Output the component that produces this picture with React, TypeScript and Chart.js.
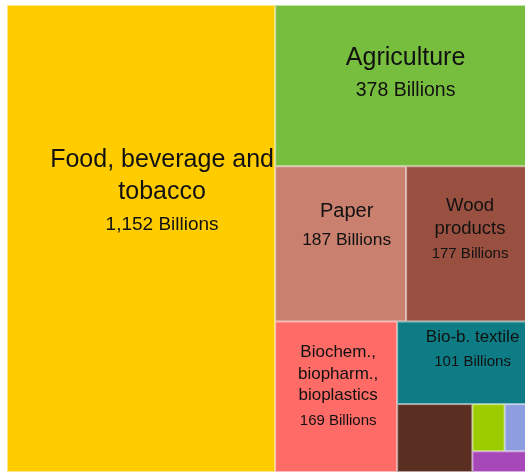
import React, { useEffect, useRef } from "react";
import { Chart, registerables } from "chart.js";

Chart.register(...registerables);

// ---- data ----
const sectors = [
  "Food, beverage and tobacco",
  "Agriculture",
  "Paper",
  "Wood products",
  "Biochem., biopharm., bioplastics",
  "Bio-b. textile",
  "Forestry",
  "Liquid biofuels",
  "Fishing and aquaculture",
  "Bioelectricity",
];
const turnoverBillions = [1152, 378, 187, 177, 169, 101, 47, 14, 11, 11];
const valueSuffix = " Billions";

// ---- styles ----
const colors = [
  "#FFCC00",
  "#78BE3E",
  "#C9806F",
  "#9A5040",
  "#FF6B66",
  "#0E7C84",
  "#5B2E22",
  "#9CCB00",
  "#8C9EE0",
  "#A648B8",
];
// label styles per sector: [nameSize, valueSize, dx, dy] (null = no label)
const labelStyles: (null | [number, number, number, number])[] = [
  [25, 19, 21, -49],
  [25, 19.5, 3, -14],
  [20, 17.4, 6, -20],
  [18.5, 15, 2, -16],
  [17, 15, 2, -12],
  [17, 15, 9, -15],
  null,
  null,
  null,
  null,
];
const FONT = '"Liberation Sans", Arial, sans-serif';

type Rect = { x: number; y: number; w: number; h: number };

function worst(row: number[], side: number) {
  const s = row.reduce((a, b) => a + b, 0);
  let m = 0;
  for (const r of row) {
    const v = Math.max((side * side * r) / (s * s), (s * s) / (side * side * r));
    if (v > m) m = v;
  }
  return m;
}

function squarify(values: number[], rect: Rect): Rect[] {
  const total = values.reduce((a, b) => a + b, 0);
  const scale = (rect.w * rect.h) / total;
  const areas = values.map((v) => v * scale);
  const out: Rect[] = [];
  let { x, y, w, h } = rect;
  let idx = 0;
  while (idx < areas.length) {
    const side = Math.min(w, h);
    let row = [areas[idx]];
    let j = idx + 1;
    while (j < areas.length) {
      const next = row.concat(areas[j]);
      if (worst(next, side) <= worst(row, side)) {
        row = next;
        j++;
      } else break;
    }
    const rowArea = row.reduce((a, b) => a + b, 0);
    if (w >= h) {
      const colW = rowArea / h;
      let cy = y;
      for (const a of row) {
        const rh = a / colW;
        out.push({ x, y: cy, w: colW, h: rh });
        cy += rh;
      }
      x += colW;
      w -= colW;
    } else {
      const rowH = rowArea / w;
      let cx = x;
      for (const a of row) {
        const rw = a / rowH;
        out.push({ x: cx, y, w: rw, h: rowH });
        cx += rw;
      }
      y += rowH;
      h -= rowH;
    }
    idx = j;
  }
  return out;
}

function wrapWords(ctx: CanvasRenderingContext2D, text: string, maxW: number) {
  const words = text.split(" ");
  const lines: string[] = [];
  let cur = "";
  for (const wd of words) {
    const test = cur ? cur + " " + wd : wd;
    if (cur && ctx.measureText(test).width > maxW) {
      lines.push(cur);
      cur = wd;
    } else cur = test;
  }
  if (cur) lines.push(cur);
  return lines;
}

const treemapPlugin = {
  id: "treemapDraw",
  afterDatasetsDraw(chart: any) {
    const ctx: CanvasRenderingContext2D = chart.ctx;
    const xs = chart.scales.x;
    const ys = chart.scales.y;
    const left = xs.getPixelForValue(0);
    const right = xs.getPixelForValue(1);
    const top = ys.getPixelForValue(0);
    const bottom = ys.getPixelForValue(1);
    const rects = squarify(turnoverBillions, {
      x: left,
      y: top,
      w: right - left,
      h: bottom - top,
    });
    ctx.save();
    rects.forEach((r, i) => {
      ctx.fillStyle = colors[i];
      ctx.fillRect(r.x, r.y, r.w, r.h);
      ctx.strokeStyle = "rgba(255,255,255,0.55)";
      ctx.lineWidth = 1;
      ctx.strokeRect(r.x + 0.5, r.y + 0.5, r.w - 1, r.h - 1);
    });
    rects.forEach((r, i) => {
      const st = labelStyles[i];
      if (!st) return;
      const [ns, vs, dx, dy] = st;
      ctx.font = `${ns}px ${FONT}`;
      const lines = wrapWords(ctx, sectors[i], r.w - 10);
      const nameLH = ns * 1.28;
      const valueLH = vs * 1.62;
      const cap = ns * 0.72;
      const blockH = cap + (lines.length - 1) * nameLH + valueLH;
      const cx = r.x + r.w / 2 + dx;
      const cy = r.y + r.h / 2 + dy;
      let base = cy - blockH / 2 + cap;
      ctx.fillStyle = "#111";
      ctx.textAlign = "center";
      ctx.textBaseline = "alphabetic";
      lines.forEach((ln, k) => {
        ctx.fillText(ln, cx, base + k * nameLH);
      });
      const vBase = base + (lines.length - 1) * nameLH + valueLH;
      ctx.font = `${vs}px ${FONT}`;
      ctx.fillText(
        turnoverBillions[i].toLocaleString("en-US") + valueSuffix,
        cx,
        vBase
      );
    });
    ctx.restore();
  },
};

export default function App() {
  const ref = useRef<HTMLCanvasElement>(null);
  useEffect(() => {
    if (!ref.current) return;
    const chart = new Chart(ref.current, {
      type: "scatter",
      data: { datasets: [{ data: [] }] },
      options: {
        animation: false,
        responsive: true,
        maintainAspectRatio: false,
        layout: { padding: 0 },
        plugins: { legend: { display: false }, tooltip: { enabled: false } },
        scales: {
          x: { type: "linear", min: 0, max: 1, display: false },
          y: { type: "linear", min: 0, max: 1, reverse: true, display: false },
        },
      },
      plugins: [treemapPlugin],
    });
    return () => chart.destroy();
  }, []);
  return (
    <div
      style={{
        position: "fixed",
        left: 0,
        top: 0,
        width: "100vw",
        height: "100vh",
        overflow: "hidden",
        background: "#fff",
      }}
    >
      <div
        style={{ position: "absolute", left: 7, top: 5, width: 523, height: 467 }}
      >
        <canvas ref={ref} />
      </div>
    </div>
  );
}
